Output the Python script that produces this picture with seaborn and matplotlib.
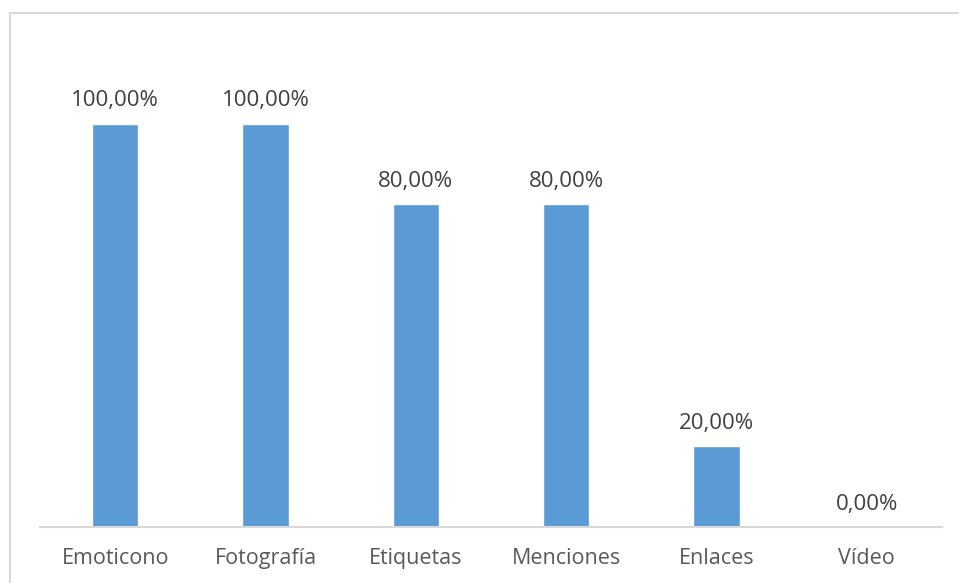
import matplotlib
matplotlib.use("Agg")
import matplotlib.pyplot as plt
import seaborn as sns
import pandas as pd
from matplotlib.patches import Rectangle

categories = ["Emoticono", "Fotografía", "Etiquetas", "Menciones", "Enlaces", "Vídeo"]
values = [1.00, 1.00, 0.80, 0.80, 0.20, 0.00]
labels = ["100,00%", "100,00%", "80,00%", "80,00%", "20,00%", "0,00%"]

df = pd.DataFrame({"cat": categories, "val": values})

sns.set_theme(style="white")
plt.rcParams["font.family"] = ["Open Sans", "DejaVu Sans"]

W, H = 959, 583
fig = plt.figure(figsize=(W / 100, H / 100), dpi=100)
fig.patch.set_facecolor("white")

# outer chart frame
fig.patches.append(Rectangle((10 / W, -0.05), 1.1, (H - 13) / H + 0.05,
                             transform=fig.transFigure, fill=False,
                             edgecolor="#D9D9D9", linewidth=1.5, zorder=0))

ax = fig.add_axes([40 / W, (H - 527) / H, 902 / W, 482 / H])
sns.barplot(data=df, x="cat", y="val", color="#5B9BD5", saturation=1,
            width=0.306, ax=ax)
ax.set_ylim(0, 1.195)
ax.set_xlim(-0.5, len(categories) - 0.5)

for i, (v, lab) in enumerate(zip(values, labels)):
    ax.annotate(lab, (i, v), xytext=(0, 12.5), textcoords="offset points",
                ha="center", va="baseline", fontsize=16, color="#404040")

for s in ["top", "right", "left"]:
    ax.spines[s].set_visible(False)
ax.spines["bottom"].set_color("#D9D9D9")
ax.spines["bottom"].set_linewidth(1.5)
ax.set_yticks([])
ax.set_xlabel("")
ax.set_ylabel("")
ax.tick_params(axis="x", length=0, pad=15, labelsize=15.5, labelcolor="#595959")
ax.set_facecolor("none")

fig.savefig("out.png", dpi=100, facecolor="white")
